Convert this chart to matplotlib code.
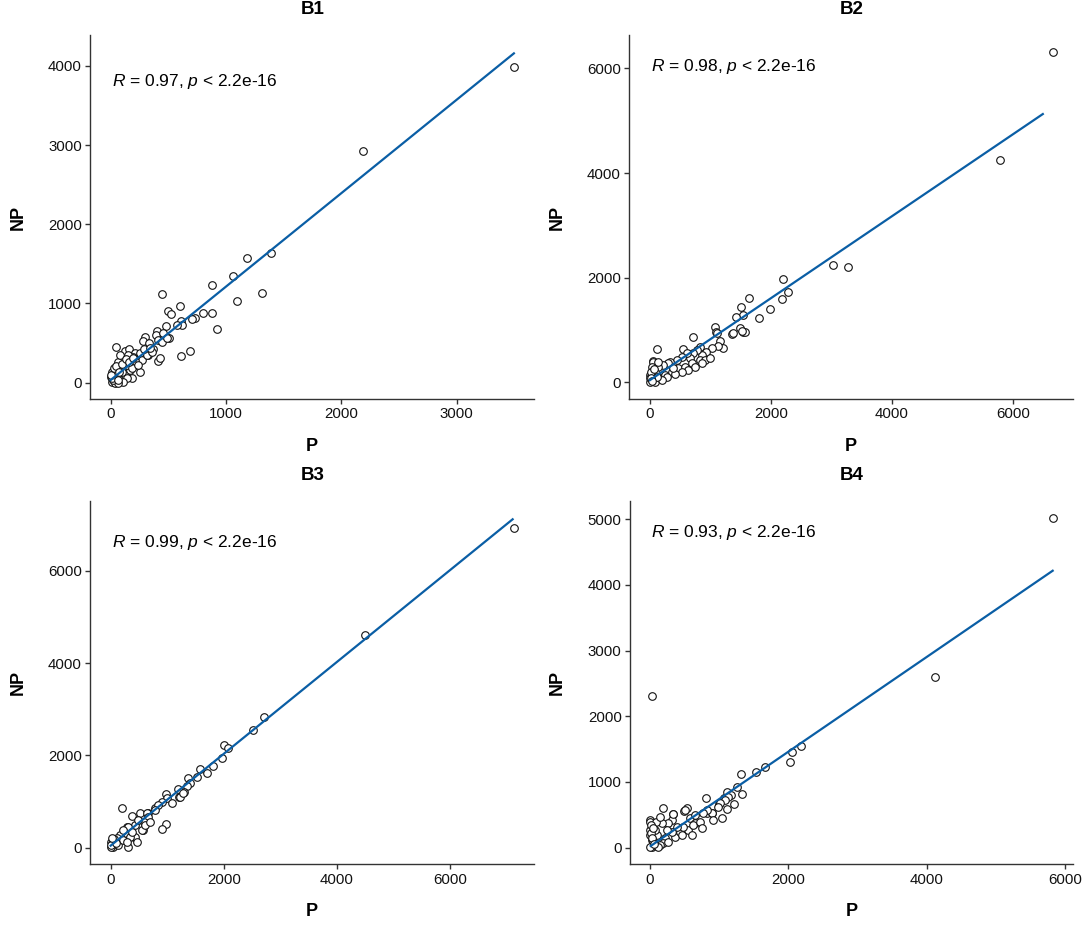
import numpy as np
import matplotlib
matplotlib.use("Agg")
import matplotlib.pyplot as plt

plt.rcParams['font.family'] = ['Liberation Sans', 'DejaVu Sans']
plt.rcParams['mathtext.fontset'] = 'custom'
plt.rcParams['mathtext.rm'] = 'Liberation Sans'
plt.rcParams['mathtext.it'] = 'Liberation Sans:italic'

panel_titles = ["B1", "B2", "B3", "B4"]
r_labels = ["0.97", "0.98", "0.99", "0.93"]

B1_P = [3497, 2185, 1393, 1179, 1058, 876, 1309, 1092, 442, 601, 500, 523, 731, 708, 803, 881, 925, 610, 688, 607, 616, 572, 477,
        43, 124, 162, 211, 298, 283, 335, 399, 395, 456, 506, 412, 370, 326, 254, 182, 413, 427, 254, 196, 153, 109, 66, 52, 9, 3, 8,
        37, 80, 124, 168, 211, 268, 312, 355, 95, 138, 211, 292, 341, 442, 486, 95, 37, 138, 109, 66, 182, 240, 153, 81, 20, 30, 15, 60,
        5, 25, 50, 70, 100, 130, 160, 190]
B1_NP = [3990, 2925, 1641, 1574, 1347, 1229, 1136, 1035, 1124, 968, 909, 863, 812, 808, 884, 875, 678, 337, 404, 783, 728, 728, 716,
         455, 405, 425, 379, 581, 530, 497, 657, 602, 623, 560, 539, 421, 349, 140, 55, 273, 307, 371, 329, 266, 287, 266, 160, 139, 76, 13,
         0, 42, 97, 160, 223, 286, 349, 391, 181, 223, 278, 421, 433, 518, 560, 139, 97, 55, 13, 0, 181, 223, 350, 350, 40, 120, 60, 30,
         100, 180, 210, 130, 230, 300, 260, 310]

B2_P = [6661, 5780, 3028, 3281, 2202, 2285, 2175, 1982, 1806, 1635, 1503, 1530, 1420, 1073, 1090, 1349, 1486, 1541, 1569, 716, 1156,
        1211, 1128, 1018, 110, 540, 826, 853, 44,
        1101, 919, 853, 771, 716, 661, 606, 523, 440, 330, 303, 220, 55, 28, 138, 83, 0, 28, 83, 165, 248, 358, 468, 578, 688, 826,
        908, 991, 853, 743, 633, 523, 413, 275, 193, 110, 5, 5, 138, 385, 1376, 1514, 20, 60, 15, 40]
B2_NP = [6305, 4248, 2235, 2203, 1980, 1719, 1592, 1407, 1235, 1617, 1445, 1286, 1254, 1063, 955, 922, 1031, 968, 955, 871, 789,
         662, 694, 649, 630, 643, 668, 425, 413,
         936, 585, 521, 617, 553, 457, 553, 489, 425, 394, 362, 330, 394, 298, 298, 203, 139, 44, 12, 76, 139, 203, 267, 298, 362, 425,
         425, 457, 362, 298, 235, 203, 158, 107, 44, 107, 12, 76, 394, 267, 949, 987, 200, 250, 90, 20]

B3_P = [7131, 4491, 2711, 2516, 2009, 2068, 1974, 1815, 1697, 1579, 1520, 1373, 1402, 1343, 1302, 1196, 1213, 978, 1001, 901, 978,
        901, 784, 667, 578, 519, 385, 194, 578, 419, 312, 283, 430,
        637, 665, 586, 843, 1078, 783, 489, 312, 253, 165, 106, 46, 17, 46, 0, 136, 223, 430, 548, 606, 341, 223, 76, 6, 371, 459, 283,
        700, 1225, 1284, 20, 60, 10, 90, 30]
B3_NP = [6932, 4614, 2830, 2556, 2217, 2159, 1950, 1776, 1610, 1711, 1524, 1502, 1394, 1336, 1199, 1271, 1091, 1163, 1069, 997, 513,
         398, 853, 744, 686, 744, 686, 867, 383, 224, 5, 455, 491,
         744, 672, 564, 925, 961, 817, 600, 456, 311, 275, 203, 131, 59, 8, 22, 59, 167, 239, 384, 492, 239, 384, 131, 131, 348, 131, 131,
         564, 1105, 1177, 90, 180, 50, 100, 220]

B4_P = [5831, 4125, 24, 2048, 2024, 2178, 1663, 1533, 1311, 1263, 1330, 1108, 1166, 1108, 1219, 1070, 1002, 810, 819, 891, 530, 496,
        328, 183, 578, 651,
        1133, 1084, 1012, 988, 901, 819, 771, 651, 506, 313, 265, 169, 0, 0, 82, 145, 0, 0, 24, 24, 72, 120, 217, 193, 265, 361, 434,
        458, 554, 627, 723, 482, 386, 313, 241, 96, 72, 145, 48, 120, 0, 602, 747, 916, 1036, 337,
        10, 15, 30, 40, 60]
B4_NP = [5010, 2602, 2313, 1461, 1309, 1547, 1233, 1147, 1121, 928, 812, 852, 802, 584, 665, 751, 665, 751, 523, 523, 599, 564,
         513, 599, 447, 371,
         776, 726, 675, 624, 522, 573, 522, 497, 573, 421, 370, 380, 421, 395, 395, 461, 269, 193, 117, 5, 41, 117, 142, 66, 91, 167, 243,
         193, 269, 345, 396, 319, 319, 243, 269, 193, 269, 41, 91, 5, 15, 193, 294, 421, 446, 512,
         340, 230, 150, 300, 60]

# fitted regression line end points
fit_P = [[0, 3497], [0, 6496], [0, 7108], [10, 5822]]
fit_NP = [[34, 4158], [44, 5127], [44, 7113], [26, 4214]]

xs = [B1_P, B2_P, B3_P, B4_P]
ys = [B1_NP, B2_NP, B3_NP, B4_NP]

xlims = [(-177, 3674), (-342, 7000), (-360, 7491), (-289, 6120)]
ylims = [(-206, 4390), (-317, 6637), (-360, 7509), (-253, 5275)]
xticks = [[0, 1000, 2000, 3000], [0, 2000, 4000, 6000], [0, 2000, 4000, 6000], [0, 2000, 4000, 6000]]
yticks = [[0, 1000, 2000, 3000, 4000], [0, 2000, 4000, 6000], [0, 2000, 4000, 6000], [0, 1000, 2000, 3000, 4000, 5000]]

W, H = 1084, 934
fig = plt.figure(figsize=(W / 100, H / 100), dpi=100)
boxes = [(90.3, 35, 534.3, 399), (629.3, 35, 1073.3, 399), (90.3, 501, 534.3, 864.3), (630, 501, 1073.3, 864.3)]
label_y = [0.871, 0.913, 0.886, 0.914]

for i in range(4):
    l, t, r, b = boxes[i]
    ax = fig.add_axes([l / W, 1 - b / H, (r - l) / W, (b - t) / H])
    x = np.array(xs[i], dtype=float)
    y = np.array(ys[i], dtype=float)
    ax.scatter(x, y, s=30, facecolors='white', edgecolors='#111111', linewidths=0.8, zorder=2)
    ax.plot(fit_P[i], fit_NP[i], color='#0A5EA5', lw=1.6, zorder=3)
    ax.set_xlim(xlims[i])
    ax.set_ylim(ylims[i])
    ax.set_xticks(xticks[i])
    ax.set_yticks(yticks[i])
    for s in ['top', 'right']:
        ax.spines[s].set_visible(False)
    for s in ['left', 'bottom']:
        ax.spines[s].set_linewidth(1.0)
        ax.spines[s].set_color('#333333')
    ax.tick_params(axis='both', length=3.5, width=1.0, color='#333333', labelsize=10.8, labelcolor='#111111', pad=2.5)
    ax.set_xlabel('P', fontsize=13, fontweight='bold', va='center')
    ax.set_ylabel('NP', fontsize=13, fontweight='bold', va='center')
    ax.xaxis.set_label_coords(0.5, -0.131)
    ax.yaxis.set_label_coords(-0.163, 0.5)
    ax.text(0.5, 1.071, panel_titles[i], transform=ax.transAxes, ha='center', va='center',
            fontsize=13.5, fontweight='bold')
    ax.text(0.048, label_y[i], r"$\it{R}$ = " + r_labels[i] + r", $\it{p}$ < 2.2e-16",
            transform=ax.transAxes, ha='left', va='center', fontsize=12.5)

fig.savefig('out.png', dpi=100)
